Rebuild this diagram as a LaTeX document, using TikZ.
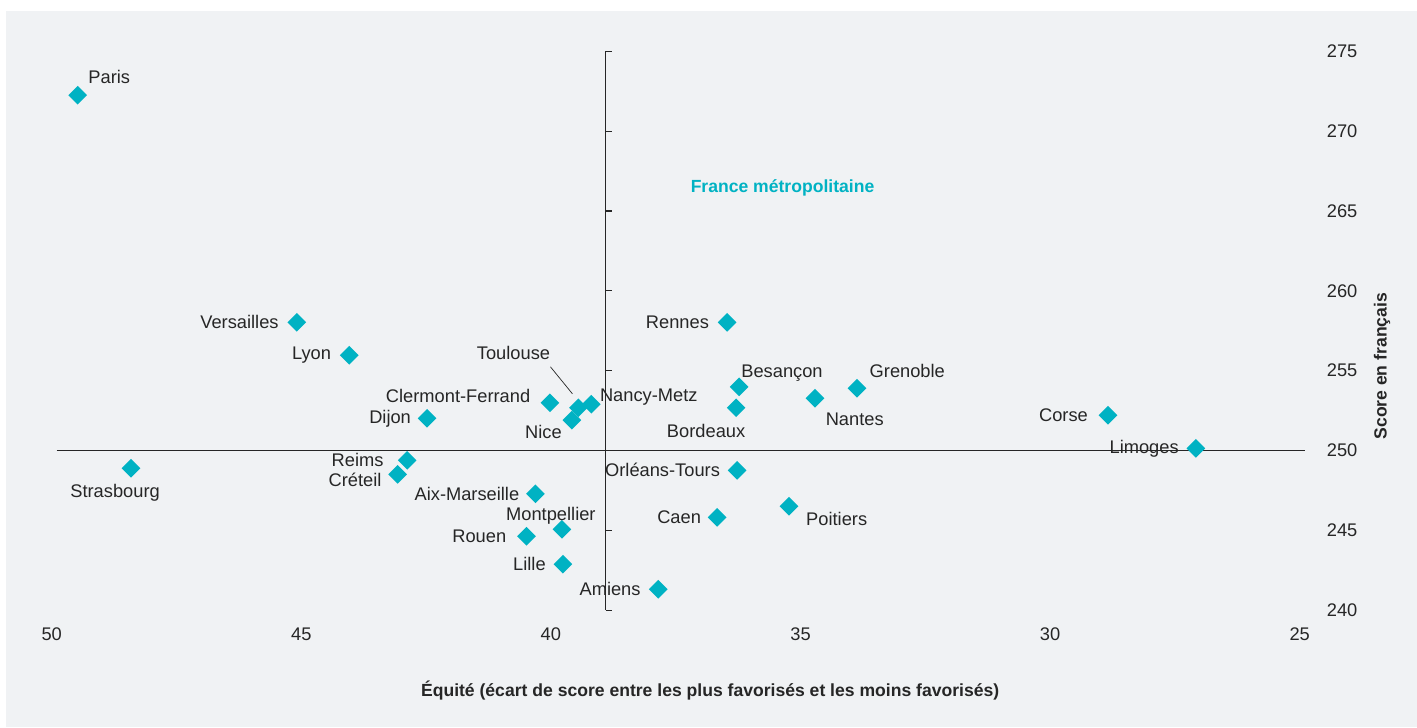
\documentclass[tikz,border=0pt]{standalone}
\usepackage{fontspec}
\setmainfont{Liberation Sans}
\usetikzlibrary{positioning}
\usetikzlibrary{shapes.geometric}

\definecolor{sea}{HTML}{00B2C3}
\definecolor{panel}{HTML}{F0F2F4}
\definecolor{ink}{HTML}{262626}

\tikzset{
  pt/.style={diamond, fill=sea, minimum width=0.38cm, minimum height=0.38cm, inner sep=0pt},
  lbl/.style={inner sep=0pt, text=ink, font=\fontsize{10.4}{12}\selectfont},
  axt/.style={inner sep=0pt, text=ink, font=\fontsize{10}{12}\selectfont\bfseries},
  axis/.style={draw=ink, line width=0.6pt},
}

\begin{document}
\begin{tikzpicture}
	\useasboundingbox (0,0) rectangle (28.34,14.54);
	\fill[white] (0,0) rectangle (28.34,14.54);
	\fill[panel] (0.12,0) rectangle (28.34,14.32);
	\begin{scope}[x=-0.9984cm, y=0.3194cm, shift={(50.954cm,-74.32cm)}]
		\draw[axis] (49.9,250) -- (24.9,250);
		\draw[axis] (38.9,240) -- (38.9,275);
		\foreach \sc in {240,245,...,275} {
			\draw[axis] (38.9,\sc) -- (38.78,\sc);
			\node[lbl] at (24.15,\sc) {\sc};
		}
		\foreach \eq in {50,45,...,25}
			\node[lbl] at (\eq,238.52) {\eq};
		\foreach \n/\eq/\sc in {paris/49.48/272.25, versailles/45.09/258.03, lyon/44.04/255.97,
				strasbourg/48.41/248.89, dijon/42.48/252.02, reims/42.88/249.39, creteil/43.07/248.51,
				clermont/40.02/252.99, toulouse/39.45/252.68, nancy/39.19/252.90, nice/39.58/251.90,
				aix/40.31/247.29, montpellier/39.78/245.07, rouen/40.49/244.63, lille/39.76/242.88,
				amiens/37.85/241.31, rennes/36.47/258.03, besancon/36.23/253.99, bordeaux/36.29/252.68,
				grenoble/33.87/253.90, nantes/34.71/253.27, orleans/36.27/248.76, caen/36.67/245.82,
				poitiers/35.23/246.51, corse/28.84/252.21, limoges/27.08/250.14}
			\node[pt] (\n) at (\eq,\sc) {};
		\node[axt, text=sea] (france) at (35.36,266.42) {France métropolitaine};
		\node[axt, rotate=90] (scoreaxis) at (23.35,255.28) {Score en français};
		\node[axt] (equiteaxis) at (36.81,234.99) {Équité (écart de score entre les plus favorisés et les moins favorisés)};
	\end{scope}
	\node[lbl, above right=0.13cm and 0.11cm of paris] (parislab) {Paris};
	\node[lbl, left=0.16cm of versailles] (versailleslab) {Versailles};
	\node[lbl, left=0.16cm of lyon] (lyonlab) {Lyon};
	\node[lbl, below=0.12cm of strasbourg, xshift=-0.32cm] (strasbourglab) {Strasbourg};
	\node[lbl, left=0.12cm of dijon] (dijonlab) {Dijon};
	\node[lbl, left=0.27cm of reims] (reimslab) {Reims};
	\node[lbl, left=0.12cm of creteil, yshift=-0.12cm] (creteillab) {Créteil};
	\node[lbl, left=0.19cm of clermont, yshift=0.13cm] (clermontlab) {Clermont-Ferrand};
	\node[lbl, above left=0.85cm and 0.46cm of toulouse] (toulouselab) {Toulouse};
	\node[lbl, right=-0.03cm of nancy, yshift=0.15cm] (nancylab) {Nancy-Metz};
	\node[lbl, left=0cm of nice, yshift=-0.23cm] (nicelab) {Nice};
	\node[lbl, left=0.12cm of aix] (aixlab) {Aix-Marseille};
	\node[lbl, above=-0.11cm of montpellier, xshift=-0.22cm] (montpellierlab) {Montpellier};
	\node[lbl, left=0.2cm of rouen] (rouenlab) {Rouen};
	\node[lbl, left=0.14cm of lille] (lillelab) {Lille};
	\node[lbl, left=0.15cm of amiens] (amienslab) {Amiens};
	\node[lbl, left=0.16cm of rennes] (renneslab) {Rennes};
	\node[lbl, above right=0cm and -0.06cm of besancon] (besanconlab) {Besançon};
	\node[lbl, below=0.13cm of bordeaux, xshift=-0.6cm] (bordeauxlab) {Bordeaux};
	\node[lbl, above right=0.11cm and 0.15cm of grenoble] (grenoblelab) {Grenoble};
	\node[lbl, below right=0.19cm and 0.11cm of nantes] (nanteslab) {Nantes};
	\node[lbl, left=0.14cm of orleans] (orleanslab) {Orléans-Tours};
	\node[lbl, left=0.12cm of caen] (caenlab) {Caen};
	\node[lbl, right=0.14cm of poitiers, yshift=-0.26cm] (poitierslab) {Poitiers};
	\node[lbl, left=0.2cm of corse] (corselab) {Corse};
	\node[lbl, left=0.14cm of limoges] (limogeslab) {Limoges};
	\draw[ink, line width=0.4pt] ([yshift=-0.13cm]toulouselab.south east) -- ([shift={(-0.02cm,0.18cm)}]toulouse.north west);
\end{tikzpicture}
\end{document}
